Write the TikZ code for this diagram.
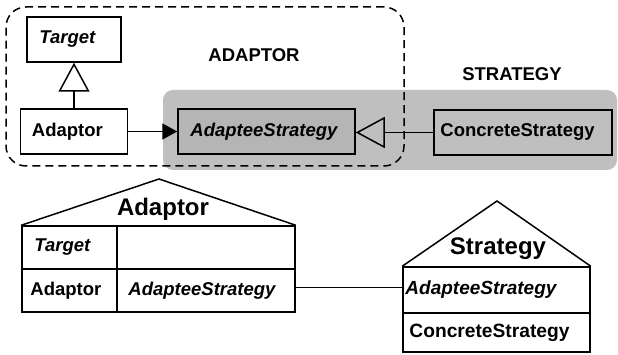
\documentclass[tikz,border=0pt]{standalone}
\usepackage{fontspec}
\setmainfont{Liberation Sans}
\usetikzlibrary{arrows.meta}
\begin{document}
\begin{tikzpicture}[x=1pt,y=-1pt,
  box/.style={draw, line width=1.5pt, inner sep=0pt},
  txt/.style={font=\fontsize{18.5}{22}\selectfont\bfseries, inner sep=0pt, anchor=west},
  itxt/.style={font=\fontsize{18.5}{22}\selectfont\bfseries\itshape, inner sep=0pt, anchor=west},
  btxt/.style={font=\fontsize{19.2}{22}\selectfont\bfseries, inner sep=0pt, anchor=west},
  bitxt/.style={font=\fontsize{19}{22}\selectfont\bfseries\itshape, inner sep=0pt, anchor=west},
  ttl/.style={font=\fontsize{24}{28}\selectfont\bfseries, inner sep=0pt},
  conn/.style={line width=1.5pt},
  inh/.style={conn, -{Triangle[open, length=29pt, width=31pt, line width=1.5pt]}},
  assoc/.style={conn, -{Triangle[length=15pt, width=16pt]}},
  roof/.style={line width=1.5pt, line join=miter}
]
\useasboundingbox (0,0) rectangle (618,355);

% strategy group background
\node[fill=black!25, rounded corners=10pt, inner sep=0pt, minimum width=454, minimum height=80] (sgrp) at (390,130) {};

% top classes
\node[box, fill=white, minimum width=94, minimum height=45] (target) at (74,39.5) {};
\node[itxt] (targetT) at ([xshift=13]target.west) {Target};
\node[box, fill=white, minimum width=107, minimum height=45] (adaptor) at (74,131.5) {};
\node[txt] (adaptorT) at ([xshift=12]adaptor.west) {Adaptor};
\node[box, fill=black!29, minimum width=177, minimum height=45] (adaptee) at (266.5,131.5) {};
\node[itxt] (adapteeT) at ([xshift=13]adaptee.west) {AdapteeStrategy};
\node[box, fill=black!25, minimum width=178, minimum height=45] (concrete) at (523,132.5) {};
\node[txt] (concreteT) at ([xshift=7]concrete.west) {ConcreteStrategy};

% group labels
\node[txt, anchor=center] (lblA) at (254,55) {ADAPTOR};
\node[txt, anchor=center] (lblS) at (512,74) {STRATEGY};

% connectors
\draw[inh] (adaptor.north) -- (target.south);
\draw[assoc] (adaptor.east) -- (adaptor.east -| adaptee.west);
\draw[inh] (concrete.west) -- (concrete.west -| adaptee.east);

% adaptor group dashed outline
\node[draw, line width=1.5pt, dash pattern=on 8pt off 5pt, rounded corners=20pt, inner sep=0pt, minimum width=398, minimum height=159] (agrp) at (205,86.5) {};

% bottom left: Adaptor collaboration
\node[box, minimum width=95, minimum height=43] (a11) at (69.5,247.5) {};
\node[box, minimum width=178, minimum height=43] (a12) at (206,247.5) {};
\node[box, minimum width=95, minimum height=43] (a21) at (69.5,290.5) {};
\node[box, minimum width=178, minimum height=43] (a22) at (206,290.5) {};
\node[itxt] (a11T) at ([xshift=13]a11.west) {Target};
\node[txt] (a21T) at ([xshift=9]a21.west) {Adaptor};
\node[itxt] (a22T) at ([xshift=12]a22.west) {AdapteeStrategy};
\coordinate (apexA) at (159,179);
\draw[roof] (a11.north west) -- (apexA) -- (a12.north east);
\node[ttl] (titleA) at (163,209) {Adaptor};

% bottom right: Strategy collaboration
\node[box, minimum width=187, minimum height=46] (s1) at (496.5,290) {};
\node[box, minimum width=187, minimum height=39] (s2) at (496.5,332.5) {};
\node[bitxt] (s1T) at ([xshift=3]s1.west) {AdapteeStrategy};
\node[btxt] (s2T) at ([xshift=7]s2.west) {ConcreteStrategy};
\coordinate (apexS) at (497,201);
\draw[roof] (s1.north west) -- (apexS) -- (s1.north east);
\node[ttl] (titleS) at (498,249) {Strategy};

% role binding line
\draw[conn, line width=1.2pt] ([yshift=3pt]a22.east) -- ([yshift=3pt]a22.east -| s1.west);
\end{tikzpicture}
\end{document}
